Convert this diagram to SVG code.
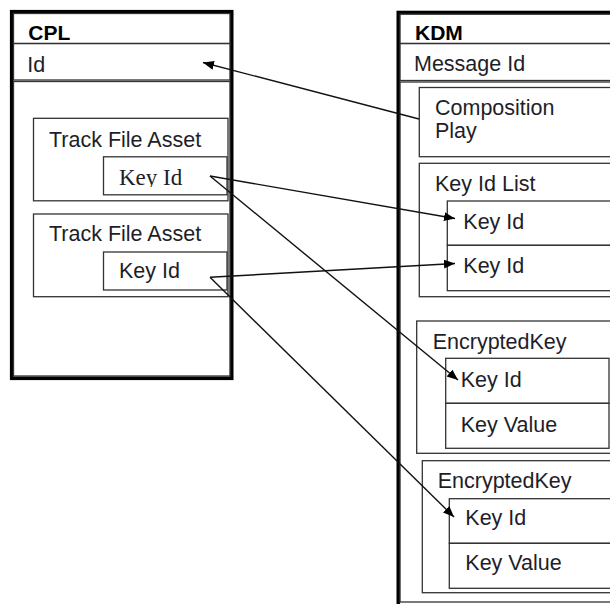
<svg xmlns="http://www.w3.org/2000/svg" width="610" height="604" viewBox="0 0 610 604">
<style>
.thick{fill:none;stroke:#000;stroke-width:3.6}
.box{fill:none;stroke:#333;stroke-width:1.3}
.t{font-family:"Liberation Sans",Arial,sans-serif;font-size:21.5px;fill:#1e1e28}
.h{font-family:"Liberation Sans",Arial,sans-serif;font-size:21px;font-weight:bold;fill:#000}
.s{font-family:"Liberation Serif","Times New Roman",serif;font-size:23px;fill:#1e1e28}
.c{fill:none;stroke:#111;stroke-width:1.4}
</style>
<defs>
<marker id="arr" markerUnits="userSpaceOnUse" markerWidth="12" markerHeight="10" refX="11" refY="4.5" orient="auto">
<path d="M0,0 L11,4.5 L0,9 z" fill="#000"/>
</marker>
<clipPath id="clipKey"><rect x="100" y="150" width="130" height="37"/></clipPath>
</defs>
<rect width="610" height="604" fill="#fff"/>
<g id="cpl">
<rect class="thick" x="11.7" y="11.7" width="220" height="366.6"/>
<rect class="box" x="13.5" y="13.5" width="216.5" height="30"/>
<text class="h" x="28.3" y="40">CPL</text>
<rect class="box" x="13.5" y="43.5" width="216.5" height="36.5"/>
<text class="t" x="27.3" y="72">Id</text>
<rect class="box" x="13.5" y="81.5" width="216.5" height="294.5"/>
</g>
<g id="cpl-asset1">
<rect class="box" x="33.5" y="118.3" width="194.5" height="82.5"/>
<text class="t" x="49" y="147.3">Track File Asset</text>
</g>
<g id="cpl-key1">
<rect class="box" x="103.5" y="156.8" width="123.5" height="38"/>
<text class="s" x="119" y="185" clip-path="url(#clipKey)">Key Id</text>
</g>
<g id="cpl-asset2">
<rect class="box" x="33.5" y="214" width="194.5" height="82.7"/>
<text class="t" x="49" y="240.7">Track File Asset</text>
</g>
<g id="cpl-key2">
<rect class="box" x="103.5" y="252" width="123.5" height="38"/>
<text class="t" x="119" y="278.3">Key Id</text>
</g>
<g id="kdm">
<rect class="thick" x="398.3" y="12.5" width="300" height="620"/>
<rect class="box" x="400" y="14.2" width="250" height="29.3"/>
<text class="h" x="415" y="39.5">KDM</text>
<rect class="box" x="400" y="43.5" width="250" height="37"/>
<text class="t" x="414" y="71">Message Id</text>
<rect class="box" x="400" y="82" width="250" height="520" stroke="#777"/>
</g>
<g id="kdm-composition">
<rect class="box" x="419.3" y="87.5" width="220" height="69.2"/>
<text class="t" x="435" y="115">Composition</text>
<text class="t" x="435" y="137.5">Play</text>
</g>
<g id="kdm-keyidlist">
<rect class="box" x="419.3" y="163.3" width="220" height="133.4"/>
<text class="t" x="435" y="190.7">Key Id List</text>
</g>
<g id="kdm-list-key1">
<rect class="box" x="447.3" y="201" width="200" height="44.3"/>
<text class="t" x="463.3" y="229.3">Key Id</text>
</g>
<g id="kdm-list-key2">
<rect class="box" x="447.3" y="245.3" width="200" height="45.4"/>
<text class="t" x="463.3" y="273.3">Key Id</text>
</g>
<g id="kdm-enc1">
<rect class="box" x="416.7" y="321" width="220" height="132.3"/>
<text class="t" x="432.7" y="349.3">EncryptedKey</text>
</g>
<g id="kdm-enc1-keyid">
<rect class="box" x="445.7" y="358.3" width="163.3" height="45"/>
<text class="t" x="460.7" y="386.7">Key Id</text>
</g>
<g id="kdm-enc1-keyvalue">
<rect class="box" x="445.7" y="403.3" width="163.3" height="45"/>
<text class="t" x="460.7" y="431.7">Key Value</text>
</g>
<g id="kdm-enc2">
<rect class="box" x="422.3" y="460.7" width="220" height="132"/>
<text class="t" x="437.7" y="488.3">EncryptedKey</text>
</g>
<g id="kdm-enc2-keyid">
<rect class="box" x="449.3" y="498.7" width="200" height="44.6"/>
<text class="t" x="465.3" y="525">Key Id</text>
</g>
<g id="kdm-enc2-keyvalue">
<rect class="box" x="449.3" y="543.3" width="200" height="45"/>
<text class="t" x="465.3" y="570">Key Value</text>
</g>
<g id="connectors">
<line class="c" x1="419" y1="119" x2="203" y2="62.5" marker-end="url(#arr)"/>
<line class="c" x1="210" y1="176" x2="455" y2="218.5" marker-end="url(#arr)"/>
<line class="c" x1="210" y1="176" x2="458" y2="380" marker-end="url(#arr)"/>
<line class="c" x1="210" y1="277.3" x2="455" y2="263.5" marker-end="url(#arr)"/>
<line class="c" x1="210" y1="277.3" x2="454" y2="517" marker-end="url(#arr)"/>
</g>
</svg>
